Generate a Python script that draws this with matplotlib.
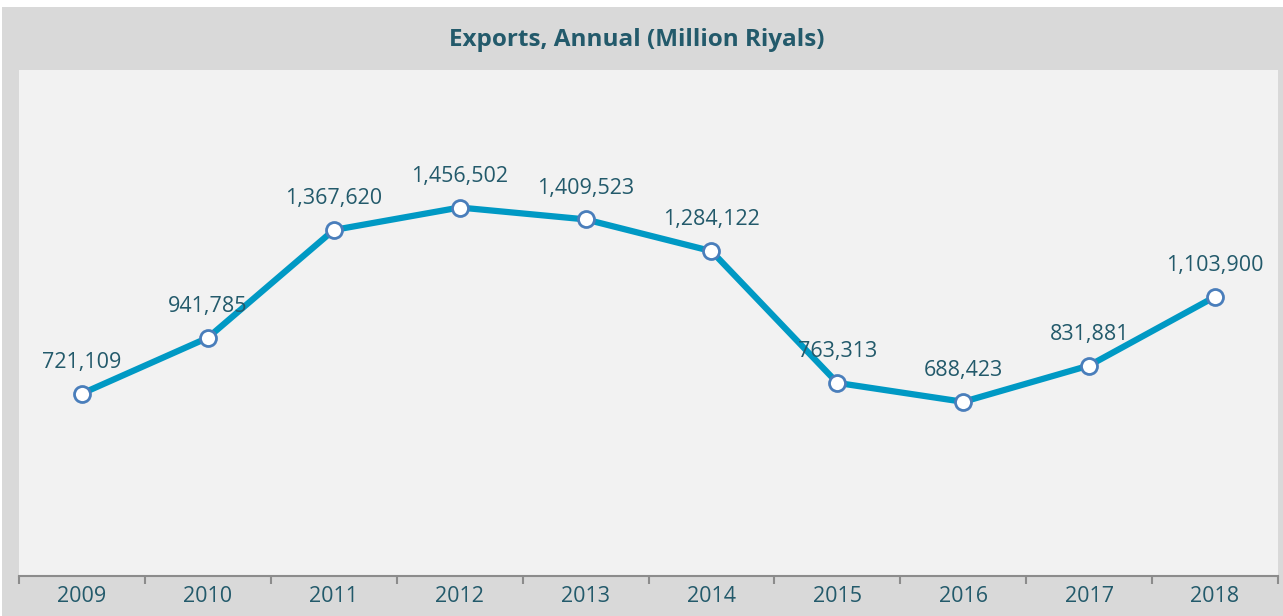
import matplotlib
matplotlib.use("Agg")
from matplotlib import pyplot as plt
from matplotlib.patches import Rectangle
import numpy as np

years = ['2009', '2010', '2011', '2012', '2013', '2014', '2015', '2016', '2017', '2018']
exports = [721109, 941785, 1367620, 1456502, 1409523, 1284122, 763313, 688423, 831881, 1103900]

txt_c = '#235a6b'
line_c = '#0099c4'
edge_c = '#4a7ebb'

plt.rcParams['font.family'] = ['Open Sans', 'DejaVu Sans']

fig = plt.figure(figsize=(12.83, 6.16), dpi=100, facecolor='white')
fig.patches.append(Rectangle((2/1283, 0), 1 - 2/1283, (616-7)/616, transform=fig.transFigure,
                             facecolor='#d9d9d9', edgecolor='none', zorder=-10))
fig.text(637/1283, 1 - 40/616, 'Exports, Annual (Million Riyals)', ha='center', va='center',
         fontsize=17.5, fontweight='bold', color=txt_c)

ax = fig.add_axes([19/1283, 40/616, (1278-19)/1283, (576-70)/616])
ax.set_facecolor('#f2f2f2')

x = np.arange(len(years))
ax.plot(x, exports, color=line_c, lw=4.5, marker='o', markersize=11.5,
        markerfacecolor='white', markeredgecolor=edge_c, markeredgewidth=2, zorder=3)
for xi, v in zip(x, exports):
    ax.annotate(f'{v:,}', (xi, v), xytext=(0, 15), textcoords='offset points',
                ha='center', va='bottom', fontsize=15.5, color=txt_c, zorder=4)

ax.set_xlim(-0.5, len(years) - 0.5)
ax.set_ylim(0, 2000000)
ax.set_yticks([])
ax.set_xticks(x)
ax.set_xticklabels(years, fontsize=15.5, color=txt_c)
ax.tick_params(axis='x', which='major', length=0, pad=7)
ax.set_xticks(np.arange(-0.5, len(years)), minor=True)
ax.tick_params(axis='x', which='minor', length=6, width=1.5, color='#8c8c8c')
for s in ['top', 'left', 'right']:
    ax.spines[s].set_visible(False)
ax.spines['bottom'].set_color('#8c8c8c')
ax.spines['bottom'].set_linewidth(1.5)

fig.savefig('out.png', dpi=100, facecolor=fig.get_facecolor())
